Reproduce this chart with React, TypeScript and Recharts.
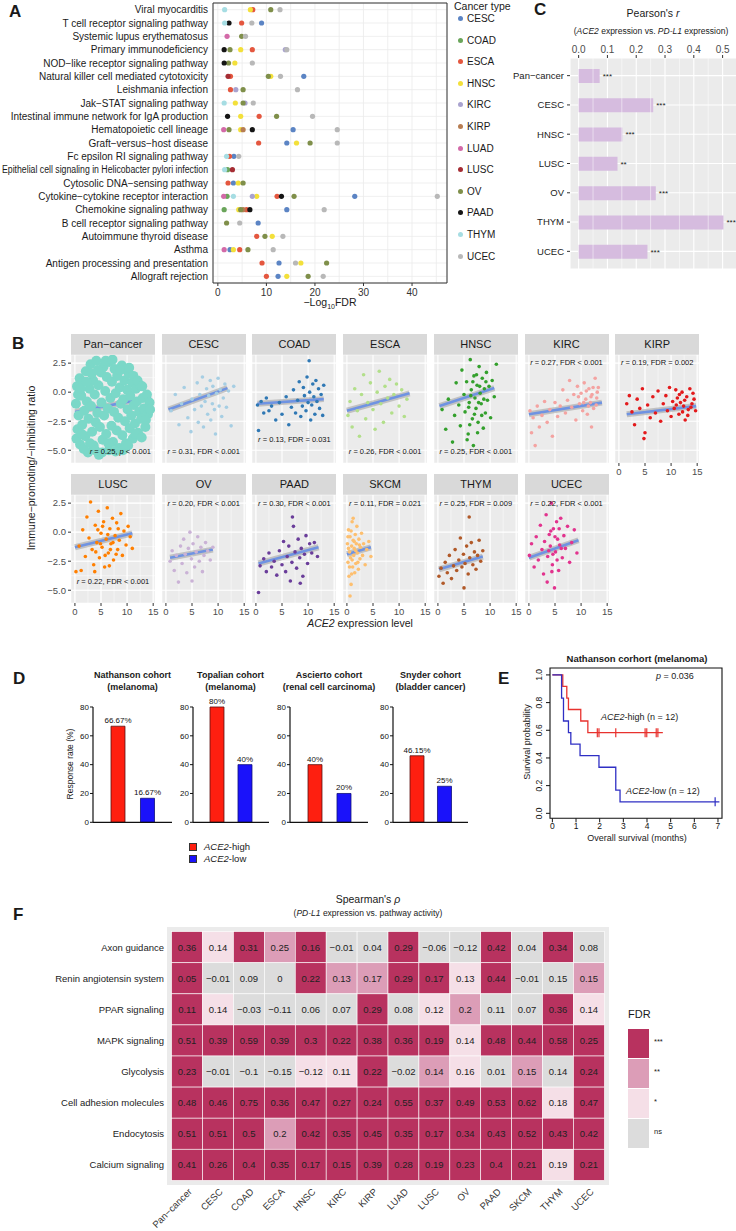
import React from 'react'
import {
  ComposedChart,
  ScatterChart,
  BarChart,
  Scatter,
  Line,
  Bar,
  Cell,
  XAxis,
  YAxis,
  CartesianGrid,
  ReferenceArea,
  ReferenceLine,
  LabelList,
} from 'recharts'

const FONT = '"Liberation Sans", Arial, Helvetica, sans-serif'
const MINUS = '\u2212'

// ---------- A: enrichment dot plot ----------
const PATHWAYS = [
  'Viral myocarditis',
  'T cell receptor signaling pathway',
  'Systemic lupus erythematosus',
  'Primary immunodeficiency',
  'NOD\u2212like receptor signaling pathway',
  'Natural killer cell mediated cytotoxicity',
  'Leishmania infection',
  'Jak\u2212STAT signaling pathway',
  'Intestinal immune network for IgA production',
  'Hematopoietic cell lineage',
  'Graft\u2212versus\u2212host disease',
  'Fc epsilon RI signaling pathway',
  'Epithelial cell signaling in Helicobacter pylori infection',
  'Cytosolic DNA\u2212sensing pathway',
  'Cytokine\u2212cytokine receptor interaction',
  'Chemokine signaling pathway',
  'B cell receptor signaling pathway',
  'Autoimmune thyroid disease',
  'Asthma',
  'Antigen processing and presentation',
  'Allograft rejection',
]
const CANCER_TYPES = ['CESC', 'COAD', 'ESCA', 'HNSC', 'KIRC', 'KIRP', 'LUAD', 'LUSC', 'OV', 'PAAD', 'THYM', 'UCEC']
const CANCER_COLORS = ['#5b84c4', '#6aa55a', '#e4573f', '#f3e03a', '#a9a3cf', '#b77d52', '#d36aa8', '#a52d34', '#7f8f4a', '#151515', '#a6dde3', '#b8b8b8']

// [pathway row (1 = top), -log10 FDR]
const ENR_CESC = [[2, 9.0], [6, 17.7], [10, 15.5], [11, 14.2], [12, 3.3], [14, 3.2], [15, 28.2], [16, 14.2], [17, 8.3], [19, 2.5], [20, 12.6], [21, 12.4]]
const ENR_COAD = [[13, 2.0], [15, 1.9], [16, 1.3]]
const ENR_ESCA = [[1, 7.2], [2, 4.9], [4, 7.1], [6, 2.6], [7, 2.6], [9, 8.5], [11, 8.4], [12, 2.4], [14, 2.1], [15, 12.2], [16, 5.9], [18, 8.0], [19, 4.5], [20, 9.1], [21, 10.0]]
const ENR_HNSC = [[1, 6.7], [4, 4.7], [5, 3.5], [6, 10.9], [8, 3.6], [9, 4.7], [10, 4.7], [11, 16.2], [14, 4.2], [15, 8.0], [16, 4.3], [18, 11.2], [19, 3.2], [20, 17.1], [21, 14.2]]
const ENR_KIRC = [[4, 13.9], [7, 3.7], [8, 5.6], [15, 7.1]]
const ENR_KIRP = [[10, 5.2], [16, 5.2]]
const ENR_LUAD = [[3, 1.9], [10, 1.2], [15, 1.2], [19, 1.3]]
const ENR_LUSC = [[6, 2.1], [13, 3.0]]
const ENR_OV = [[1, 10.9], [3, 4.9], [4, 2.5], [5, 2.2], [6, 10.4], [7, 5.2], [8, 5.2], [9, 12.1], [10, 2.3], [11, 19.0], [14, 5.2], [15, 15.7], [16, 4.7], [17, 1.8], [18, 9.7], [19, 6.2], [20, 22.4], [21, 18.6]]
const ENR_PAAD = [[2, 2.3], [4, 1.3], [5, 1.3], [9, 2.0], [10, 7.1], [15, 13.1], [16, 6.6]]
const ENR_THYM = [[1, 1.4], [2, 1.4], [8, 1.3], [12, 1.8], [13, 1.4], [15, 3.2]]
const ENR_UCEC = [[1, 12.8], [2, 7.0], [3, 5.7], [4, 14.2], [5, 7.1], [6, 12.9], [7, 16.4], [8, 7.3], [9, 19.5], [10, 24.6], [11, 24.6], [12, 4.3], [15, 45.2], [16, 21.9], [17, 4.5], [18, 13.4], [19, 11.4], [20, 16.0], [21, 21.7]]
const ENRICH = [ENR_CESC, ENR_COAD, ENR_ESCA, ENR_HNSC, ENR_KIRC, ENR_KIRP, ENR_LUAD, ENR_LUSC, ENR_OV, ENR_PAAD, ENR_THYM, ENR_UCEC]
const A_XTICKS = [0, 5, 10, 15, 20, 25, 30, 35, 40, 45]

// ---------- C: Pearson's r bars ----------
const CORR_GROUPS = ['Pan\u2212cancer', 'CESC', 'HNSC', 'LUSC', 'OV', 'THYM', 'UCEC']
const CORR_R = [0.073, 0.259, 0.152, 0.135, 0.268, 0.503, 0.239]
const CORR_SIG = ['***', '***', '***', '**', '***', '***', '***']
const C_TICKS = [0, 0.1, 0.2, 0.3, 0.4, 0.5]
const C_MINOR = [0.05, 0.15, 0.25, 0.35, 0.45]

// ---------- B: facet scatter ----------
const PTS_PAN = [[0.2, -1.0], [0.4, 0.5], [0.5, -3.2], [0.7, -2.0], [0.9, 1.2], [1.0, -4.5], [1.2, -0.3], [1.4, -2.8], [1.6, 0.9], [1.8, -1.6], [2.0, -3.8], [2.1, 1.8], [2.3, -0.8], [2.5, -5.2], [2.6, -2.3], [2.8, 0.3], [3.0, 2.4], [3.1, -1.2], [3.3, -3.4], [3.5, 1.0], [3.6, -4.6], [3.8, -0.2], [4.0, -2.6], [4.1, 2.7], [4.3, -1.8], [4.5, 0.6], [4.6, -5.4], [4.8, -3.0], [5.0, 1.7], [5.1, -0.9], [5.3, -4.1], [5.5, 2.2], [5.6, -2.0], [5.8, 0.1], [6.0, -3.6], [6.1, 1.3], [6.3, -1.4], [6.5, -5.0], [6.6, 2.6], [6.8, -0.5], [7.0, -2.9], [7.1, 0.9], [7.3, -4.3], [7.5, -1.7], [7.6, 2.0], [7.8, -0.1], [8.0, -3.3], [8.1, 1.4], [8.3, -2.2], [8.5, -4.8], [8.6, 0.4], [8.8, -1.0], [9.0, 2.3], [9.1, -3.7], [9.3, -0.6], [9.5, 1.0], [9.6, -2.5], [9.8, -4.4], [10.0, 0.2], [10.1, -1.5], [10.3, 1.6], [10.5, -3.1], [10.6, -0.3], [10.8, -2.0], [11.0, 0.8], [11.1, -4.0], [11.3, -1.1], [11.5, -2.7], [11.7, 0.3], [11.9, -0.8], [12.1, -3.5], [12.3, -1.7], [12.5, 0.6], [12.7, -2.3], [13.0, -0.5], [13.2, -1.4], [13.5, -3.0], [13.8, -0.2], [14.0, -1.9], [14.3, -0.9],
  [0.3, -4.0], [0.6, -0.2], [1.1, 0.3], [1.3, -3.6], [1.7, -4.9], [2.2, 0.9], [2.9, -4.4], [3.2, 1.6], [3.9, -5.0], [4.4, 1.9], [5.2, -5.2], [5.9, 2.7], [6.4, -4.4], [7.2, 2.8], [7.8, -5.1], [8.7, 1.9], [9.2, -5.0], [10.2, -4.6], [10.4, 2.1], [11.2, 1.4], [11.6, -3.6], [12.0, 1.0], [12.8, -3.9], [12.9, 0.5], [13.6, -2.4], [14.4, -1.5]]
const PTS_CESC = [[1.0, -1.6], [1.8, -0.2], [2.5, -2.8], [3.0, -1.0], [3.5, 0.4], [4.2, -2.2], [4.8, -3.4], [5.0, -0.6], [5.5, -1.5], [6.0, 0.8], [6.2, -2.6], [6.5, -0.2], [6.8, -1.2], [7.0, 1.3], [7.2, -3.0], [7.5, -0.8], [7.8, 0.3], [8.0, -1.9], [8.2, -0.3], [8.5, 1.0], [8.6, -2.4], [8.9, -1.0], [9.0, 0.5], [9.3, -1.5], [9.5, -3.6], [9.7, -0.1], [10.0, 1.2], [10.2, -1.2], [10.4, 0.2], [10.7, -2.1], [11.0, -0.5], [11.3, 0.7], [11.6, -1.3], [12.0, 0.1], [12.5, -2.9], [13.0, 0.5]]
const PTS_COAD = [[0.3, -1.1], [0.5, -3.3], [1.0, -0.8], [1.5, -1.8], [2.0, -0.5], [2.5, -1.6], [3.0, -1.2], [3.8, -2.4], [4.5, -0.9], [5.0, -1.9], [5.8, -0.4], [6.3, -2.8], [6.8, -1.3], [7.2, 0.2], [7.6, -1.8], [8.0, -0.7], [8.3, 0.9], [8.6, -2.1], [8.9, -1.2], [9.1, 0.4], [9.3, -0.3], [9.6, -1.6], [9.8, 1.3], [10.0, -0.9], [10.2, 2.7], [10.3, 0.0], [10.5, -2.4], [10.7, -1.1], [10.9, 0.7], [11.1, -0.4], [11.3, -1.9], [11.5, 1.0], [11.7, -0.8], [12.0, 0.3], [12.2, -1.4], [12.5, -0.2], [12.8, -2.0], [13.0, 0.6]]
const PTS_ESCA = [[0.2, -2.0], [0.6, -0.8], [1.0, -3.0], [1.5, 0.3], [2.0, -1.6], [2.4, -3.8], [2.8, -0.2], [3.2, 1.5], [3.6, -2.3], [4.0, -0.9], [4.5, 0.8], [5.0, -1.5], [5.4, -3.2], [5.8, 0.0], [6.2, 1.8], [6.5, -1.0], [7.0, -2.6], [7.3, 0.5], [7.8, -0.5], [8.2, 1.1], [8.6, -1.8], [9.0, -0.2], [9.5, 0.7], [10.0, -1.2], [10.5, 0.2], [11.0, -2.1], [11.5, -0.6]]
const PTS_HNSC = [[0.8, -1.5], [1.5, -3.2], [2.0, -0.6], [2.8, -4.3], [3.2, -2.0], [3.5, 0.8], [4.0, -1.1], [4.3, -2.9], [4.6, 1.9], [5.0, -0.2], [5.2, -1.7], [5.5, 0.9], [5.8, -3.6], [6.0, -0.9], [6.2, 2.8], [6.4, 0.2], [6.6, -2.3], [6.9, 1.4], [7.1, -0.5], [7.3, -1.4], [7.5, 0.6], [7.7, -2.6], [7.9, 2.2], [8.1, -0.1], [8.3, -1.0], [8.5, 1.2], [8.7, -3.1], [8.9, 0.3], [9.1, -1.8], [9.3, 1.7], [9.5, -0.7], [9.8, 0.5], [10.1, -2.2], [10.4, 1.0], [10.8, -0.4], [11.2, 2.4], [6.8, -4.6], [5.6, -4.1],
  [5.9, -1.3], [6.3, -0.3], [6.7, 0.9], [7.0, -1.9], [7.4, 1.5], [7.8, -0.9], [8.0, 0.5], [8.4, -2.0], [8.8, -0.6], [9.2, 0.9], [6.1, -2.8], [7.6, -3.5]]
const PTS_KIRC = [[0.2, -1.6], [0.5, -3.5], [0.8, -2.2], [1.2, -4.6], [1.6, -1.2], [2.0, -3.0], [2.5, -2.0], [3.0, -0.8], [3.5, -2.6], [4.0, -1.5], [4.5, -3.8], [5.0, -0.9], [5.5, -2.1], [6.0, -1.2], [6.5, 0.2], [7.0, -1.8], [7.4, -0.7], [7.8, 1.0], [8.2, -1.3], [8.6, -0.2], [9.0, -2.4], [9.3, 0.5], [9.7, -1.0], [10.0, -0.1], [10.3, -1.6], [10.6, 0.8], [10.9, -0.6], [11.2, -1.9], [11.5, 0.3], [11.8, -0.9], [12.1, -0.2], [12.4, -1.4], [12.7, 1.2], [13.0, -0.5], [13.3, 0.4], [12.0, -3.0],
  [10.5, -0.9], [11.0, 0.1], [11.4, -1.2], [11.9, -0.4], [12.3, 0.4], [12.9, -1.1], [13.1, 0.0], [9.5, -0.4]]
const PTS_KIRP = [[1.5, -1.0], [2.0, -0.3], [2.5, -1.7], [3.0, -2.8], [3.5, -0.6], [4.0, -1.4], [4.5, 0.3], [5.0, -3.5], [5.5, -1.1], [6.0, -2.2], [6.5, -0.4], [7.0, -1.8], [7.5, 0.1], [8.0, -2.5], [8.5, -1.0], [9.0, -0.3], [9.3, -1.6], [9.7, 0.4], [10.0, -2.1], [10.3, -0.8], [10.6, -1.4], [10.9, 0.2], [11.2, -0.5], [11.5, -1.9], [11.8, -0.9], [12.1, 0.0], [12.4, -1.2], [12.7, -2.4], [13.0, -0.4], [13.3, -1.5], [13.6, 0.3], [14.0, -1.0], [14.4, -0.6], [14.7, -1.6], [4.8, -4.0],
  [11.0, -1.1], [11.6, -0.2], [12.2, -1.7], [12.6, -0.7], [13.2, -2.0], [13.8, -1.3], [14.2, -0.1]]
const PTS_LUSC = [[0.2, -3.4], [0.8, -1.2], [1.2, -3.3], [1.5, 0.2], [2.0, -2.1], [2.3, 1.3], [2.7, -0.5], [3.0, 2.6], [3.3, -1.5], [3.6, -2.8], [3.9, 0.6], [4.2, -0.9], [4.5, 1.8], [4.7, -2.2], [5.0, -0.1], [5.2, -1.3], [5.5, 0.9], [5.7, -3.0], [6.0, -0.6], [6.2, 2.1], [6.4, -1.8], [6.7, 0.3], [6.9, -1.0], [7.2, 1.2], [7.4, -2.4], [7.7, -0.3], [8.0, 0.8], [8.2, -1.5], [8.5, -0.7], [8.8, 1.6], [9.1, -2.0], [9.4, 0.1], [9.8, -1.1], [10.2, 0.5], [10.6, -0.4], [11.0, -1.4], [3.8, -3.4], [6.6, -2.9],
  [4.0, -1.7], [4.4, 0.2], [4.9, -1.0], [5.3, 0.5], [5.8, -2.0], [6.3, -0.2], [6.8, -1.5], [7.3, -0.9], [7.9, -1.9], [8.3, 0.3]]
const PTS_OV = [[0.8, -2.5], [1.2, -1.6], [1.6, -3.3], [2.0, -2.0], [2.4, -4.3], [2.8, -1.2], [3.1, -2.7], [3.4, -0.6], [3.7, -1.9], [4.0, -3.5], [4.3, -1.4], [4.6, 0.0], [4.9, -2.3], [5.2, -1.0], [5.5, -3.0], [5.8, -1.7], [6.1, -0.4], [6.4, -2.5], [6.7, -1.3], [7.0, -3.4], [7.3, -2.0], [7.6, -0.9], [8.0, -1.6], [8.5, -2.4], [9.0, -1.3], [5.0, -4.2]]
const PTS_PAAD = [[0.5, -5.2], [0.8, -2.9], [1.5, -2.3], [2.0, -3.4], [2.5, -1.8], [3.0, -3.0], [3.5, -2.5], [4.0, -3.7], [4.5, -1.6], [5.0, -2.8], [5.3, -0.8], [5.7, -3.4], [6.0, -2.1], [6.3, -1.2], [6.6, -4.2], [6.9, -2.6], [7.2, 0.5], [7.5, -1.7], [7.8, -3.1], [8.1, -0.6], [8.4, -2.2], [8.7, -1.4], [9.0, -3.8], [9.3, -1.9], [9.6, -0.3], [9.9, -2.7], [10.3, -1.0], [10.7, -1.8], [11.2, -0.9], [11.8, -2.1], [7.0, 1.3], [8.5, -4.4]]
const PTS_SKCM = [[0.1, -1.0], [0.2, -2.6], [0.3, 0.2], [0.4, -3.8], [0.5, -1.7], [0.6, -0.4], [0.7, -2.2], [0.8, -4.5], [0.9, -1.2], [1.0, 0.9], [1.1, -3.0], [1.2, -0.7], [1.3, -2.0], [1.4, -1.4], [1.5, -3.5], [1.6, -0.2], [1.7, -2.7], [1.8, -1.0], [1.9, 0.5], [2.0, -1.8], [2.2, -3.2], [2.3, -0.6], [2.5, -2.3], [2.6, -1.3], [2.8, -0.1], [3.0, -2.0], [3.2, -1.0], [3.5, -2.8], [3.8, -1.5], [4.2, -0.8], [4.6, -2.1], [0.6, -5.5], [1.2, 1.2],
  [0.3, -1.4], [0.5, -3.0], [0.8, 0.1], [1.0, -2.4], [1.4, -0.8], [1.7, -1.6], [2.1, -2.6], [2.4, -1.1], [0.2, -0.4], [0.9, -3.6]]
const PTS_THYM = [[0.2, -3.8], [0.6, -3.1], [1.0, -4.4], [1.4, -2.6], [1.8, -3.5], [2.2, -2.0], [2.6, -4.0], [3.0, -2.9], [3.3, -1.5], [3.6, -3.3], [4.0, -2.4], [4.3, -0.5], [4.6, -3.0], [4.9, -1.9], [5.2, -2.7], [5.5, -1.2], [5.8, -3.6], [6.1, -2.2], [6.4, -0.9], [6.7, -2.8], [7.0, -1.7], [7.3, -3.2], [7.6, -2.0], [7.9, -0.7], [8.2, -2.5], [8.6, -1.6], [5.0, -4.8], [6.0, 1.3]]
const PTS_UCEC = [[0.1, -2.0], [0.5, -1.0], [1.0, -3.0], [1.4, -0.4], [1.8, -2.4], [2.2, 0.6], [2.5, -1.5], [2.8, -3.6], [3.0, -0.8], [3.3, 1.5], [3.6, -2.1], [3.9, -0.2], [4.1, -1.2], [4.3, 2.5], [4.5, -2.8], [4.7, 0.3], [4.9, -4.8], [5.1, -1.7], [5.3, 0.9], [5.5, -0.6], [5.7, -3.3], [5.9, -1.1], [6.1, 1.2], [6.4, -2.2], [6.7, -0.3], [7.0, -1.4], [7.4, 0.5], [7.8, -2.6], [8.2, -0.9], [8.7, 0.2], [9.2, -1.8], [3.5, -4.3],
  [3.8, -1.6], [4.2, 0.1], [4.6, -1.9], [5.0, -0.4], [5.4, -2.4], [5.8, 0.3], [6.2, -1.4], [4.4, -3.4]]

// fitted line ends
const FIT_PAN = [[0, -1.7], [14.6, -0.45]]
const FIT_CESC = [[0.5, -1.5], [11.8, 0.35]]
const FIT_COAD = [[0.3, -1.0], [13.0, -0.6]]
const FIT_ESCA = [[0, -1.6], [12.0, -0.1]]
const FIT_HNSC = [[0.3, -1.2], [10.8, 0.35]]
const FIT_KIRC = [[0, -1.9], [14.0, -0.9]]
const FIT_KIRP = [[1.5, -1.9], [14.8, -1.2]]
const FIT_LUSC = [[0, -1.3], [11.0, -0.1]]
const FIT_OV = [[0.8, -2.2], [9.0, -1.5]]
const FIT_PAAD = [[0.5, -2.7], [12.0, -1.3]]
const FIT_SKCM = [[0, -1.9], [4.6, -1.3]]
const FIT_THYM = [[0.2, -3.2], [8.6, -2.1]]
const FIT_UCEC = [[0, -2.2], [9.5, -0.7]]

const FACET_NAMES = ['Pan\u2212cancer', 'CESC', 'COAD', 'ESCA', 'HNSC', 'KIRC', 'KIRP', 'LUSC', 'OV', 'PAAD', 'SKCM', 'THYM', 'UCEC']
const FACET_COLORS = ['#7bd8c8', '#a6cee3', '#2f78b4', '#b2df8a', '#33a02c', '#f4a3a1', '#e31a1c', '#ff7f00', '#cab2d6', '#6a3d9a', '#fdbf6f', '#b15928', '#e2338e']
const FACET_PTS = [PTS_PAN, PTS_CESC, PTS_COAD, PTS_ESCA, PTS_HNSC, PTS_KIRC, PTS_KIRP, PTS_LUSC, PTS_OV, PTS_PAAD, PTS_SKCM, PTS_THYM, PTS_UCEC]
const FACET_FIT = [FIT_PAN, FIT_CESC, FIT_COAD, FIT_ESCA, FIT_HNSC, FIT_KIRC, FIT_KIRP, FIT_LUSC, FIT_OV, FIT_PAAD, FIT_SKCM, FIT_THYM, FIT_UCEC]
const FACET_R = ['0.25', '0.31', '0.13', '0.26', '0.25', '0.27', '0.19', '0.22', '0.20', '0.30', '0.11', '0.25', '0.22']
const FACET_FDR = ['', '< 0.001', '= 0.031', '< 0.001', '< 0.001', '< 0.001', '= 0.002', '< 0.001', '< 0.001', '< 0.001', '= 0.021', '= 0.009', '< 0.001']
// where the note sits (pixels from plot top)
const NOTE_TOP = [97, 97, 85, 97, 97, 8, 8, 87, 9, 9, 9, 9, 9]

const BX_TICKS = [0, 2.5, 5, 7.5, 10, 12.5, 15]
const BY_TICKS = [-5, -3.75, -2.5, -1.25, 0, 1.25, 2.5]

// ---------- D: response rates ----------
const COHORTS = ['Nathanson cohort', 'Topalian cohort', 'Ascierto cohort', 'Snyder cohort']
const COHORT_SUBS = ['(melanoma)', '(melanoma)', '(renal cell carcinoma)', '(bladder cancer)']
const RESP_HIGH = [66.67, 80, 40, 46.15]
const RESP_LOW = [16.67, 40, 20, 25]
const RESP_HIGH_LBL = ['66.67%', '80%', '40%', '46.15%']
const RESP_LOW_LBL = ['16.67%', '40%', '20%', '25%']
const D_AXIS_X = [93, 192.5, 290, 393]
const D_WIDTH = [79, 76, 78, 75]

// ---------- E: Kaplan-Meier ----------
const KM_HIGH_T = [0, 0.44, 0.61, 0.68, 1.2, 1.5, 4.67]
const KM_HIGH_S = [1, 0.917, 0.833, 0.75, 0.667, 0.583, 0.583]
const KM_LOW_T = [0, 0.39, 0.47, 0.68, 0.78, 1.17, 1.97, 2.68, 2.86, 7.06]
const KM_LOW_S = [1, 0.833, 0.667, 0.583, 0.5, 0.417, 0.333, 0.167, 0.083, 0.083]
const CENS_HIGH_T = [1.9, 1.97, 2.68, 3.92, 3.99, 4.39, 4.46]
const CENS_HIGH_S = [0.583, 0.583, 0.583, 0.583, 0.583, 0.583, 0.583]
const CENS_LOW_T = [6.88]
const CENS_LOW_S = [0.083]

// ---------- F: heatmap ----------
const HEAT_ROWS = ['Axon guidance', 'Renin angiotensin system', 'PPAR signaling', 'MAPK signaling', 'Glycolysis', 'Cell adhesion molecules', 'Endocytosis', 'Calcium signaling']
const HEAT_COLS = ['Pan\u2212cancer', 'CESC', 'COAD', 'ESCA', 'HNSC', 'KIRC', 'KIRP', 'LUAD', 'LUSC', 'OV', 'PAAD', 'SKCM', 'THYM', 'UCEC']
const RHO_AXON = [0.36, 0.14, 0.31, 0.25, 0.16, -0.01, 0.04, 0.29, -0.06, -0.12, 0.42, 0.04, 0.34, 0.08]
const RHO_RENIN = [0.05, -0.01, 0.09, 0, 0.22, 0.13, 0.17, 0.29, 0.17, 0.13, 0.44, -0.01, 0.15, 0.15]
const RHO_PPAR = [0.11, 0.14, -0.03, -0.11, 0.06, 0.07, 0.29, 0.08, 0.12, 0.2, 0.11, 0.07, 0.36, 0.14]
const RHO_MAPK = [0.51, 0.39, 0.59, 0.39, 0.3, 0.22, 0.38, 0.36, 0.19, 0.14, 0.48, 0.44, 0.58, 0.25]
const RHO_GLYC = [0.23, -0.01, -0.1, -0.15, -0.12, 0.11, 0.22, -0.02, 0.14, 0.16, 0.01, 0.15, 0.14, 0.24]
const RHO_CAM = [0.48, 0.46, 0.75, 0.36, 0.47, 0.27, 0.24, 0.55, 0.37, 0.49, 0.53, 0.62, 0.18, 0.47]
const RHO_ENDO = [0.51, 0.51, 0.5, 0.2, 0.42, 0.35, 0.45, 0.35, 0.17, 0.34, 0.43, 0.52, 0.43, 0.42]
const RHO_CALC = [0.41, 0.26, 0.4, 0.35, 0.17, 0.15, 0.39, 0.28, 0.19, 0.23, 0.4, 0.21, 0.19, 0.21]
// 3 = ***, 2 = **, 1 = *, 0 = ns
const SIG_AXON = [3, 1, 3, 2, 3, 0, 0, 3, 0, 0, 3, 0, 3, 0]
const SIG_RENIN = [3, 0, 0, 0, 3, 2, 2, 3, 3, 1, 3, 0, 0, 2]
const SIG_PPAR = [3, 1, 0, 0, 0, 0, 3, 0, 1, 2, 0, 0, 3, 1]
const SIG_MAPK = [3, 3, 3, 3, 3, 3, 3, 3, 3, 1, 3, 3, 3, 3]
const SIG_GLYC = [3, 0, 0, 0, 1, 1, 3, 0, 2, 1, 0, 2, 0, 3]
const SIG_CAM = [3, 3, 3, 3, 3, 3, 3, 3, 3, 3, 3, 3, 1, 3]
const SIG_ENDO = [3, 3, 3, 2, 3, 3, 3, 3, 3, 3, 3, 3, 3, 3]
const SIG_CALC = [3, 3, 3, 3, 3, 3, 3, 3, 3, 3, 3, 3, 1, 3]
const RHO = [RHO_AXON, RHO_RENIN, RHO_PPAR, RHO_MAPK, RHO_GLYC, RHO_CAM, RHO_ENDO, RHO_CALC]
const SIG = [SIG_AXON, SIG_RENIN, SIG_PPAR, SIG_MAPK, SIG_GLYC, SIG_CAM, SIG_ENDO, SIG_CALC]
const SIG_COLORS = ['#dcdcdc', '#f5dfe7', '#dc9db7', '#b8325f']
const SIG_LABELS = ['ns', '*', '**', '***']

const toXY = (arr: number[][]) => arr.map(([x, y]) => ({ x, y }))
const fmtNum = (v: number) => (v < 0 ? MINUS + String(-v) : String(v))

const dot = (r: number) => (p: any) => <circle cx={p.cx} cy={p.cy} r={r} fill={p.fill} />
const NW: React.CSSProperties = { position: 'absolute', whiteSpace: 'nowrap' }

function PanelA() {
  const rows = PATHWAYS.map((_, i) => i + 1)
  const xTick = ({ x, y, payload }: any) =>
    payload.value % 10 === 0 ? (
      <g>
        <line x1={x} x2={x} y1={y} y2={y + 3} stroke="#333" />
        <text x={x} y={y + 13} textAnchor="middle" fontSize={10} fill="#333">{payload.value}</text>
      </g>
    ) : <g />
  const yTick = ({ x, y, payload }: any) => {
    const label = PATHWAYS[payload.value - 1]
    // the longest label is squeezed to fit the left margin, as in the figure
    const squeeze = label.length > 50 ? { textLength: x - 2, lengthAdjust: 'spacingAndGlyphs' } : {}
    return (
      <text x={x} y={y} dy="0.35em" textAnchor="end" fontSize={10} fill="#1a1a1a" {...squeeze}>{label}</text>
    )
  }
  return (
    <div style={{ position: 'absolute', left: 0, top: 0 }}>
      <ScatterChart width={450} height={318} margin={{ top: 3, right: 3, bottom: 0, left: 0 }}>
        <CartesianGrid stroke="#ebebeb" strokeWidth={0.8} />
        <XAxis type="number" dataKey="x" domain={[-1, 47.2]} ticks={A_XTICKS} interval={0} allowDataOverflow
          tickLine={false} axisLine={false} tickSize={0} tickMargin={0} height={35} tick={xTick} />
        <YAxis type="number" dataKey="y" domain={[0.5, 21.5]} reversed ticks={rows} interval={0} width={213}
          tickLine={false} axisLine={false} tickSize={0} tickMargin={5} tick={yTick} />
        {ENRICH.map((arr, i) => (
          <Scatter key={CANCER_TYPES[i]} data={arr.map(([row, v]) => ({ x: v, y: row }))}
            fill={CANCER_COLORS[i]} shape={dot(2.6)} isAnimationActive={false} />
        ))}
        <ReferenceArea x1={-1} x2={47.2} y1={0.5} y2={21.5} stroke="#333" strokeWidth={1} fill="none" fillOpacity={0} />
      </ScatterChart>
      <div style={{ ...NW, left: 280, top: 296, width: 100, textAlign: 'center', fontSize: 10.5 }}>
        {MINUS}Log<sub style={{ fontSize: 7 }}>10</sub>FDR
      </div>
      <div style={{ ...NW, left: 454, top: 0, fontSize: 10.5 }}>Cancer type</div>
      {CANCER_TYPES.map((ct, i) => (
        <div key={ct} style={{ ...NW, left: 458, top: 13 + i * 21.6, fontSize: 10, display: 'flex', alignItems: 'center' }}>
          <span style={{ display: 'inline-block', width: 5, height: 5, borderRadius: 3, background: CANCER_COLORS[i], marginRight: 4 }} />
          {ct}
        </div>
      ))}
    </div>
  )
}

function PanelC() {
  const data = CORR_GROUPS.map((g, i) => ({ g, r: CORR_R[i], sig: CORR_SIG[i] }))
  return (
    <div style={{ position: 'absolute', left: 0, top: 0 }}>
      <div style={{ ...NW, left: 578, top: 7, width: 150, textAlign: 'center', fontSize: 10.5 }}>
        Pearson's <i>r</i>
      </div>
      <div style={{ ...NW, left: 565, top: 26, width: 172, textAlign: 'center', fontSize: 8.5 }}>
        (<i>ACE2</i> expression vs. <i>PD-L1</i> expression)
      </div>
      <div style={{ position: 'absolute', left: 505, top: 35 }}>
        <BarChart layout="vertical" data={data} width={232} height={234} margin={{ top: 0, right: 0, bottom: 0, left: 0 }} barCategoryGap={0}>
          <CartesianGrid fill="#ebebeb" stroke="#fff" strokeWidth={1.1} />
          {C_MINOR.map(v => <ReferenceLine key={v} x={v} stroke="#fff" strokeWidth={0.5} />)}
          <XAxis type="number" orientation="top" domain={[-0.03, 0.55]} ticks={C_TICKS} interval={0} allowDataOverflow
            height={23} axisLine={false} tickSize={3} tickMargin={2} tickLine={{ stroke: '#333' }}
            tick={{ fontSize: 10, fill: '#4d4d4d' }} tickFormatter={(v: number) => v.toFixed(1)} />
          <YAxis type="category" dataKey="g" width={65} axisLine={false} tickSize={3} tickMargin={3}
            tickLine={{ stroke: '#333' }} tick={{ fontSize: 9.5, fill: '#222' }} padding={{ top: 3, bottom: 3 }} interval={0} />
          <Bar dataKey="r" fill="#d6bcdf" barSize={14} isAnimationActive={false}>
            <LabelList dataKey="sig" position="right" offset={3} style={{ fontSize: 8, fill: '#222' }} />
          </Bar>
        </BarChart>
      </div>
    </div>
  )
}

function Facet({ idx }: { idx: number }) {
  const row = idx < 7 ? 0 : 1
  const col = idx < 7 ? idx : idx - 7
  const left = 71 + col * 90.7
  const top = row === 0 ? 334 : 474
  const showY = col === 0
  const showX = row === 1 || idx === 6
  const yw = showY ? 30 : 0
  const xh = showX ? 22 : 0
  const fit = toXY(FACET_FIT[idx])
  const r = idx === 0 ? 5 : 1.8
  const xTick = ({ x, y, payload }: any) =>
    payload.value % 5 === 0 ? (
      <g>
        <line x1={x} x2={x} y1={y} y2={y + 3} stroke="#333" />
        <text x={x} y={y + 12} textAnchor="middle" fontSize={9.5} fill="#4d4d4d">{payload.value}</text>
      </g>
    ) : <g />
  const yTick = ({ x, y, payload }: any) =>
    payload.value % 2.5 === 0 ? (
      <g>
        <line x1={x - 3} x2={x} y1={y} y2={y} stroke="#333" />
        <text x={x - 5} y={y} dy="0.35em" textAnchor="end" fontSize={9.5} fill="#4d4d4d">
          {(payload.value < 0 ? MINUS : '') + Math.abs(payload.value).toFixed(1)}
        </text>
      </g>
    ) : <g />
  const noteTop = NOTE_TOP[idx]
  return (
    <div style={{ position: 'absolute', left: left - yw, top }}>
      <div style={{ position: 'absolute', left: yw, top: 0, width: 84, height: 21, background: '#d9d9d9', fontSize: 11, lineHeight: '21px', textAlign: 'center', color: '#1a1a1a' }}>
        {FACET_NAMES[idx]}
      </div>
      <div style={{ position: 'absolute', left: 0, top: 21 }}>
        <ComposedChart width={84 + yw} height={108 + xh} margin={{ top: 0, right: 0, bottom: 0, left: 0 }}>
          <CartesianGrid fill="#ebebeb" stroke="#fff" strokeWidth={0.5} />
          {[0, 5, 10, 15].map(v => <ReferenceLine key={'x' + v} x={v} stroke="#fff" strokeWidth={1.1} />)}
          {[-5, -2.5, 0, 2.5].map(v => <ReferenceLine key={'y' + v} y={v} stroke="#fff" strokeWidth={1.1} />)}
          <XAxis type="number" dataKey="x" domain={[-0.75, 15.35]} ticks={BX_TICKS} interval={0} allowDataOverflow
            height={xh} axisLine={false} tickLine={false} tickSize={0} tickMargin={0} tick={showX ? xTick : false} />
          <YAxis type="number" dataKey="y" domain={[-6.1, 3.2]} ticks={BY_TICKS} interval={0} allowDataOverflow
            width={yw} axisLine={false} tickLine={false} tickSize={0} tickMargin={0} tick={showY ? yTick : false} />
          <Scatter data={toXY(FACET_PTS[idx])} fill={FACET_COLORS[idx]} shape={dot(r)} isAnimationActive={false} />
          <Line data={fit} dataKey="y" stroke="#9e9e9e" strokeOpacity={0.55} strokeWidth={6} dot={false} isAnimationActive={false} />
          <Line data={fit} dataKey="y" stroke="#6f93e2" strokeWidth={2.6} dot={false} isAnimationActive={false} />
        </ComposedChart>
        <div style={{
          ...NW, top: noteTop - 5, left: idx === 0 ? yw : yw - 4, width: idx === 0 ? 80 : 92,
          textAlign: idx === 0 ? 'right' : 'center', fontSize: 7.5, color: '#111',
        }}>
          <i>r</i> = {FACET_R[idx]}, {idx === 0 ? <><i>p</i> {'< 0.001'}</> : <>FDR {FACET_FDR[idx]}</>}
        </div>
      </div>
    </div>
  )
}

function PanelB() {
  return (
    <div style={{ position: 'absolute', left: 0, top: 0 }}>
      {FACET_NAMES.map((_, i) => <Facet key={i} idx={i} />)}
      <div style={{ ...NW, left: 31 - 90, top: 462, width: 180, textAlign: 'center', fontSize: 10.5, transform: 'rotate(-90deg)' }}>
        Immune{MINUS}promoting/{MINUS}inhibiting ratio
      </div>
      <div style={{ ...NW, left: 280, top: 617, width: 160, textAlign: 'center', fontSize: 10.5 }}>
        <i>ACE2</i> expression level
      </div>
    </div>
  )
}

function PanelD() {
  return (
    <div style={{ position: 'absolute', left: 0, top: 0 }}>
      {COHORTS.map((c, i) => {
        const data = [
          { g: 'high', v: RESP_HIGH[i], lbl: RESP_HIGH_LBL[i] },
          { g: 'low', v: RESP_LOW[i], lbl: RESP_LOW_LBL[i] },
        ]
        const cx = D_AXIS_X[i] + D_WIDTH[i] / 2
        return (
          <React.Fragment key={c}>
            <div style={{ ...NW, left: cx - 70, top: 670, width: 140, textAlign: 'center', fontSize: 9, fontWeight: 'bold', lineHeight: '11.5px' }}>
              {c}<br />{COHORT_SUBS[i]}
            </div>
            <div style={{ position: 'absolute', left: D_AXIS_X[i] - 22, top: 694.7 }}>
              <BarChart data={data} width={22 + D_WIDTH[i]} height={131.3} margin={{ top: 12, right: 0, bottom: 0, left: 0 }}>
                <XAxis dataKey="g" height={4} tick={false} tickLine={false} axisLine={{ stroke: '#111', strokeWidth: 1.2 }} padding={{ left: 10, right: 10 }} />
                <YAxis domain={[0, 80]} ticks={[0, 20, 40, 60, 80]} interval={0} width={22} tickSize={3} tickMargin={1}
                  axisLine={{ stroke: '#111', strokeWidth: 1.2 }} tickLine={{ stroke: '#111' }} tick={{ fontSize: 8, fill: '#111' }} />
                <Bar dataKey="v" barSize={14} stroke="#5a1010" strokeWidth={0.8} isAnimationActive={false}>
                  <Cell fill="#fe1f10" />
                  <Cell fill="#1a12fa" stroke="#10107a" />
                  <LabelList dataKey="lbl" position="top" offset={3} style={{ fontSize: 8, fill: '#111' }} />
                </Bar>
              </BarChart>
            </div>
          </React.Fragment>
        )
      })}
      <div style={{ ...NW, left: 70 - 60, top: 759, width: 120, textAlign: 'center', fontSize: 8.5, transform: 'rotate(-90deg)' }}>
        Response rate (%)
      </div>
      <div style={{ ...NW, left: 189, top: 841, fontSize: 9.5, lineHeight: '12px' }}>
        <div style={{ display: 'flex', alignItems: 'center' }}>
          <span style={{ width: 6, height: 6, background: '#fe1f10', border: '0.5px solid #333', marginRight: 7, display: 'inline-block' }} />
          <span><i>ACE2</i>-high</span>
        </div>
        <div style={{ display: 'flex', alignItems: 'center' }}>
          <span style={{ width: 6, height: 6, background: '#1a12fa', border: '0.5px solid #333', marginRight: 7, display: 'inline-block' }} />
          <span><i>ACE2</i>-low</span>
        </div>
      </div>
    </div>
  )
}

function PanelE() {
  const high = KM_HIGH_T.map((t, i) => ({ x: t, y: KM_HIGH_S[i] }))
  const low = KM_LOW_T.map((t, i) => ({ x: t, y: KM_LOW_S[i] }))
  const censH = CENS_HIGH_T.map((t, i) => ({ x: t, y: CENS_HIGH_S[i] }))
  const censL = CENS_LOW_T.map((t, i) => ({ x: t, y: CENS_LOW_S[i] }))
  const tickMark = (p: any) => <line x1={p.cx} x2={p.cx} y1={p.cy - 4.5} y2={p.cy + 4.5} stroke={p.fill} strokeWidth={1.2} />
  const yTick = ({ x, y, payload }: any) => (
    <text x={x + 2} y={y} transform={`rotate(-90 ${x + 2} ${y})`} textAnchor="middle" fontSize={8.5} fill="#111">
      {payload.value.toFixed(1)}
    </text>
  )
  return (
    <div style={{ position: 'absolute', left: 0, top: 0 }}>
      <div style={{ ...NW, left: 557, top: 653, width: 160, textAlign: 'center', fontSize: 9.5, fontWeight: 'bold' }}>
        Nathanson corhort (melanoma)
      </div>
      <div style={{ position: 'absolute', left: 515, top: 660 }}>
        <ComposedChart width={209} height={180.3} margin={{ top: 8, right: 2, bottom: 0, left: 0 }}>
          <XAxis type="number" dataKey="x" domain={[-0.1, 7.17]} ticks={[0, 1, 2, 3, 4, 5, 6, 7]} interval={0} allowDataOverflow
            height={22} axisLine={false} tickSize={4} tickMargin={1} tickLine={{ stroke: '#111' }} tick={{ fontSize: 8.5, fill: '#111' }} />
          <YAxis type="number" dataKey="y" domain={[-0.036, 1.05]} ticks={[0, 0.2, 0.4, 0.6, 0.8, 1]} interval={0} allowDataOverflow
            width={35} axisLine={false} tickSize={4} tickMargin={6} tickLine={{ stroke: '#111' }} tick={yTick} />
          <Line data={high} dataKey="y" type="stepAfter" stroke="#e8322e" strokeWidth={1.3} dot={false} isAnimationActive={false} />
          <Line data={low} dataKey="y" type="stepAfter" stroke="#2f2fc4" strokeWidth={1.3} dot={false} isAnimationActive={false} />
          <Scatter data={censH} fill="#e8322e" shape={tickMark} isAnimationActive={false} />
          <Scatter data={censL} fill="#2f2fc4" shape={tickMark} isAnimationActive={false} />
          <ReferenceArea x1={-0.1} x2={7.17} y1={-0.036} y2={1.05} stroke="#111" strokeWidth={1.1} fill="none" fillOpacity={0} />
        </ComposedChart>
      </div>
      <div style={{ ...NW, left: 656, top: 671, fontSize: 9 }}><i>p</i> = 0.036</div>
      <div style={{ ...NW, left: 601, top: 712, fontSize: 9 }}><i>ACE2</i>-high (n = 12)</div>
      <div style={{ ...NW, left: 626, top: 786, fontSize: 9 }}><i>ACE2</i>-low (n = 12)</div>
      <div style={{ ...NW, left: 527 - 60, top: 737, width: 120, textAlign: 'center', fontSize: 9, transform: 'rotate(-90deg)' }}>
        Survival probability
      </div>
      <div style={{ ...NW, left: 567, top: 833, width: 140, textAlign: 'center', fontSize: 9 }}>
        Overall survival (months)
      </div>
    </div>
  )
}

const CW = 442 / 14.3
const CH = 258 / 8.3

function PanelF() {
  const cells = RHO.flatMap((rowVals, r) => rowVals.map((v, c) => ({ x: c, y: r, rho: v, sig: SIG[r][c] })))
  const cellShape = (p: any) => (
    <g>
      <rect x={p.cx - CW / 2} y={p.cy - CH / 2} width={CW} height={CH} fill={SIG_COLORS[p.payload.sig]} stroke="#fff" strokeWidth={0.6} />
      <text x={p.cx} y={p.cy} dy="0.35em" textAnchor="middle" fontSize={9.5} fill="#222">{fmtNum(p.payload.rho)}</text>
    </g>
  )
  const xTick = ({ x, y, payload }: any) => (
    <text x={x + 3} y={y + 5} transform={`rotate(-45 ${x + 3} ${y + 5})`} textAnchor="end" dy="0.35em" fontSize={9.5} fill="#333">
      {HEAT_COLS[payload.value]}
    </text>
  )
  const yTick = ({ x, y, payload }: any) => (
    <text x={x} y={y} dy="0.35em" textAnchor="end" fontSize={9.5} fill="#222">{HEAT_ROWS[payload.value]}</text>
  )
  return (
    <div style={{ position: 'absolute', left: 0, top: 0 }}>
      <div style={{ ...NW, left: 288, top: 893, width: 160, textAlign: 'center', fontSize: 10.5 }}>
        Spearman's <i>ρ</i>
      </div>
      <div style={{ ...NW, left: 258, top: 908, width: 220, textAlign: 'center', fontSize: 8.5 }}>
        (<i>PD-L1</i> expression vs. pathway activity)
      </div>
      <div style={{ position: 'absolute', left: 0, top: 920 }}>
        <ScatterChart width={736} height={310} margin={{ top: 7, right: 127, bottom: 0, left: 0 }}>
          <CartesianGrid fill="#ebebeb" horizontal={false} vertical={false} />
          <XAxis type="number" dataKey="x" domain={[-0.65, 13.65]} ticks={HEAT_COLS.map((_, i) => i)} interval={0} allowDataOverflow
            height={45} axisLine={false} tickLine={false} tickSize={0} tickMargin={0} tick={xTick} />
          <YAxis type="number" dataKey="y" domain={[-0.65, 7.65]} reversed ticks={HEAT_ROWS.map((_, i) => i)} interval={0} allowDataOverflow
            width={167} axisLine={false} tickLine={false} tickSize={0} tickMargin={3} tick={yTick} />
          <Scatter data={cells} shape={cellShape} isAnimationActive={false} />
        </ScatterChart>
      </div>
      <div style={{ ...NW, left: 628, top: 1008, fontSize: 11 }}>FDR</div>
      {[3, 2, 1, 0].map((s, k) => (
        <React.Fragment key={s}>
          <div style={{ position: 'absolute', left: 628, top: 1029 + k * 30, width: 21, height: 29, background: SIG_COLORS[s] }} />
          <div style={{ ...NW, left: 654, top: 1037 + k * 30, fontSize: 7.5 }}>{SIG_LABELS[s]}</div>
        </React.Fragment>
      ))}
    </div>
  )
}

const panelLetter = (t: string, left: number, top: number) => (
  <div style={{ position: 'absolute', left, top, fontSize: 17, fontWeight: 'bold' }}>{t}</div>
)

export default function App() {
  return (
    <div style={{ position: 'absolute', left: 0, top: 0, width: 736, height: 1231, background: '#fff', overflow: 'hidden', fontFamily: FONT, color: '#1a1a1a' }}>
      <style>{'svg.recharts-surface{overflow:visible}'}</style>
      <PanelA />
      <PanelC />
      <PanelB />
      <PanelD />
      <PanelE />
      <PanelF />
      {panelLetter('A', 9, 2)}
      {panelLetter('B', 12, 334)}
      {panelLetter('C', 534, 0)}
      {panelLetter('D', 13, 669)}
      {panelLetter('E', 498, 669)}
      {panelLetter('F', 13, 905)}
    </div>
  )
}
